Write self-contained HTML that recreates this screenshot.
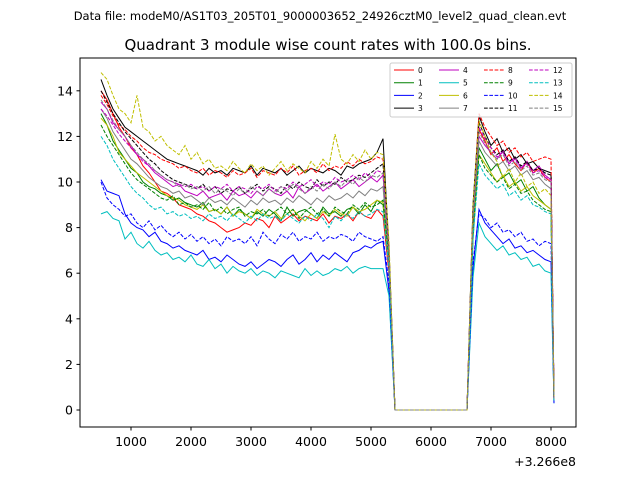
<!DOCTYPE html>
<html><head><meta charset="utf-8"><style>
body{margin:0;background:#fff}
svg{display:block;font-family:"DejaVu Sans","Liberation Sans",sans-serif}
</style></head><body>
<svg id="chart" width="640" height="480">
<rect width="640" height="480" fill="#fff"/>
<text x="320" y="20" font-size="11.5" text-anchor="middle">Data file: modeM0/AS1T03_205T01_9000003652_24926cztM0_level2_quad_clean.evt</text>
<text x="328" y="50" font-size="15" text-anchor="middle">Quadrant 3 module wise count rates with 100.0s bins.</text>
<g id="plot"></g>
<rect x="80" y="58" width="496" height="369" fill="none" stroke="#000" stroke-width="1"/>
<g id="axes"></g>
<text x="576" y="466" font-size="12.5" text-anchor="end">+3.266e8</text>
<g id="legend"></g>
</svg>
<script>
const times=[500,600,700,800,900,1000,1100,1200,1300,1400,1500,1600,1700,1800,1900,2000,2100,2200,2300,2400,2500,2600,2700,2800,2900,3000,3100,3200,3300,3400,3500,3600,3700,3800,3900,4000,4100,4200,4300,4400,4500,4600,4700,4800,4900,5000,5100,5200,5300,5400,5500,5600,5700,5800,5900,6000,6100,6200,6300,6400,6500,6600,6700,6800,6900,7000,7100,7200,7300,7400,7500,7600,7700,7800,7900,8000,8050];
const gap=[0,0,0,0,0,0,0,0,0,0,0,0,0];
const xTicks=[1000,2000,3000,4000,5000,6000,7000,8000];
const yTicks=[0,2,4,6,8,10,12,14];
const colors=["#ff0000","#008000","#0000ff","#000000","#bf00bf","#00bfbf","#bfbf00","#808080"];
const s0=[14.0,13.6,13.0,12.4,12.0,11.5,11.2,10.7,10.4,10.0,9.6,9.5,9.3,9.0,8.9,8.8,8.6,8.5,8.3,8.2,8.0,7.8,7.9,8.0,8.2,8.1,8.4,8.3,8.0,8.5,8.2,8.4,8.6,8.3,8.5,8.4,8.3,8.6,8.2,8.5,8.4,8.6,8.3,8.7,8.5,8.4,8.8,8.5,6.0].concat(gap,[8.0,12.3,11.8,11.2,11.5,10.9,11.2,10.8,10.5,10.9,10.4,10.6,10.2,10.0,0.5]);
const s1=[13.0,12.5,11.8,11.4,11.0,10.6,10.4,10.0,9.8,9.7,9.5,9.4,9.2,9.3,9.1,9.0,8.9,9.1,8.7,8.8,8.6,8.9,8.5,8.8,8.6,8.4,8.7,8.5,8.8,8.6,8.3,8.9,8.5,8.7,8.8,8.6,8.4,8.9,8.6,8.7,8.5,8.8,8.9,8.6,9.0,8.7,9.2,9.0,6.5].concat(gap,[7.5,11.5,11.0,10.5,10.8,10.2,10.4,9.9,10.1,9.6,9.8,9.3,9.0,8.8,0.4]);
const s2=[10.1,9.6,9.5,9.4,8.6,8.2,8.0,7.9,7.6,7.8,7.4,7.3,7.1,7.2,7.0,6.9,6.8,7.0,6.6,6.7,6.5,6.8,6.6,6.4,6.3,6.5,6.2,6.4,6.6,6.5,6.3,6.6,6.8,6.4,6.6,6.9,6.5,6.8,6.6,6.9,6.7,6.5,6.9,7.0,7.2,7.1,7.3,7.4,5.2].concat(gap,[6.2,8.8,8.2,7.9,7.6,7.3,7.5,7.1,7.2,6.9,7.0,6.8,6.6,6.5,0.3]);
const s3=[14.5,13.8,13.2,12.8,12.4,12.2,12.0,11.8,11.6,11.4,11.2,11.0,10.9,10.8,10.7,10.6,10.5,10.3,10.6,10.4,10.5,10.3,10.6,10.5,10.4,10.7,10.3,10.6,10.5,10.4,10.6,10.3,10.5,10.7,10.4,10.6,10.5,10.4,10.6,10.5,10.3,10.7,10.6,10.8,10.9,11.0,11.3,11.9,7.0].concat(gap,[9.0,12.9,12.2,11.6,11.9,11.3,11.5,11.0,11.2,10.8,10.9,10.6,10.5,10.4,0.6]);
const s4=[13.5,13.2,12.6,12.3,12.0,11.6,11.2,11.0,10.7,10.4,10.2,10.0,9.8,9.9,9.6,9.5,9.4,9.6,9.3,9.4,9.5,9.2,9.6,9.4,9.5,9.3,9.6,9.4,9.7,9.5,9.4,9.6,9.3,9.8,9.5,9.7,9.9,9.6,9.8,10.0,9.7,9.9,10.1,9.8,10.0,10.2,10.0,10.3,6.8].concat(gap,[8.5,12.0,11.6,11.3,11.0,11.4,10.8,11.1,10.6,10.9,10.5,10.7,10.3,10.1,0.5]);
const s5=[8.6,8.7,8.4,8.3,7.5,7.8,7.3,7.1,7.4,7.0,6.8,6.9,6.6,6.7,6.5,6.8,6.4,6.3,6.6,6.2,6.4,6.0,6.3,6.1,6.0,6.2,5.9,6.1,6.0,5.8,6.1,6.0,5.9,5.8,6.2,5.9,6.1,5.9,6.0,6.2,6.1,6.3,6.0,6.2,6.3,6.2,6.2,6.2,5.0].concat(gap,[5.8,8.2,7.6,7.3,7.0,7.2,6.8,6.9,6.6,6.7,6.3,6.4,6.1,6.0,0.3]);
const s6=[12.8,12.5,12.0,11.3,11.0,10.7,10.4,10.2,10.0,9.8,9.6,9.4,9.3,9.2,9.0,8.9,8.8,9.0,8.7,8.8,8.6,8.9,8.5,8.7,8.6,8.4,8.8,8.6,8.5,8.7,8.4,8.6,8.8,8.5,8.3,8.6,8.4,8.7,8.5,8.8,8.6,8.5,8.9,8.7,8.8,9.0,9.2,9.1,6.5].concat(gap,[7.8,11.2,10.8,10.4,10.0,10.3,9.8,10.0,9.6,9.8,9.4,9.2,9.0,8.8,0.4]);
const s7=[13.2,12.8,12.2,11.8,11.4,11.0,10.8,10.5,10.2,10.0,9.8,9.7,9.5,9.6,9.3,9.4,9.2,9.0,9.3,9.1,9.2,9.0,9.3,9.1,8.9,9.2,9.0,9.3,9.1,9.2,9.0,9.3,9.1,9.4,9.2,9.0,9.3,9.1,9.4,9.2,9.3,9.5,9.3,9.6,9.4,9.7,9.6,9.8,6.6].concat(gap,[8.2,11.8,11.3,11.0,10.7,10.9,10.5,10.7,10.3,10.5,10.1,10.2,9.9,9.7,0.5]);
const s8=[13.8,13.4,12.9,12.5,12.3,12.0,11.8,11.5,11.3,11.2,11.0,10.9,10.8,10.6,10.7,10.5,10.4,10.6,10.3,10.5,10.4,10.2,10.5,10.3,10.4,10.6,10.2,10.5,10.4,10.3,10.6,10.4,10.7,10.3,10.5,10.6,10.4,10.8,10.5,10.7,10.6,10.9,10.7,11.0,10.8,10.9,11.1,11.0,7.0].concat(gap,[8.8,13.0,12.4,12.0,11.6,11.8,11.3,11.5,11.1,11.3,10.9,11.0,11.1,11.0,0.6]);
const s9=[12.5,12.0,11.6,11.2,10.8,10.4,10.1,9.9,9.7,9.5,9.3,9.2,9.4,9.0,9.1,8.9,9.0,8.8,9.1,8.7,8.9,8.6,8.8,8.9,8.5,8.7,8.6,8.8,8.5,8.7,8.9,8.6,8.8,8.4,8.7,8.9,8.6,8.8,8.5,8.9,8.7,8.6,9.0,8.8,9.1,8.9,9.0,9.2,6.6].concat(gap,[7.8,11.2,10.6,10.3,10.0,10.2,9.7,9.9,9.5,9.6,9.2,9.0,8.8,8.7,0.4]);
const s10=[10.0,9.3,9.0,8.8,8.5,8.6,8.2,8.0,8.3,7.9,8.1,7.8,7.6,7.8,7.5,7.7,7.4,7.6,7.3,7.5,7.2,7.6,7.4,7.5,7.3,7.6,7.2,7.8,7.5,7.3,7.7,7.5,7.8,7.4,7.6,7.5,7.8,7.4,7.6,7.5,7.7,7.6,7.4,7.8,7.6,7.5,7.4,7.6,5.6].concat(gap,[6.5,8.6,8.4,8.0,8.2,7.8,7.9,7.6,7.8,7.4,7.5,7.2,7.4,7.3,0.3]);
const s11=[14.0,13.5,13.0,12.6,12.2,11.9,11.6,11.3,11.0,10.8,10.5,10.3,10.1,10.0,9.9,9.8,9.7,9.9,9.6,9.8,9.5,9.7,9.6,9.8,9.5,9.7,9.9,9.6,9.8,9.7,9.5,9.9,9.7,10.0,9.8,9.7,10.1,9.8,10.0,9.9,10.2,10.0,10.1,10.3,10.2,10.4,10.6,10.8,7.0].concat(gap,[8.8,12.6,12.0,11.5,11.2,11.4,10.9,11.1,10.7,10.9,10.5,10.6,10.4,10.3,0.5]);
const s12=[13.2,12.9,12.5,12.1,11.8,11.5,11.2,10.9,10.7,10.5,10.3,10.1,10.0,9.9,9.8,9.9,9.7,9.8,9.6,9.8,9.7,9.9,9.6,9.8,9.7,9.5,9.8,9.7,9.9,9.6,9.8,9.7,10.0,9.8,9.9,10.1,9.8,10.0,9.9,10.2,10.0,10.1,10.3,10.1,10.4,10.2,10.5,10.4,7.0].concat(gap,[8.6,12.4,11.9,11.5,11.1,11.3,10.8,11.0,10.6,10.8,10.4,10.5,10.2,10.1,0.5]);
const s13=[12.0,11.6,11.0,10.6,10.2,9.8,9.5,9.3,9.0,8.8,8.9,8.6,8.7,8.5,8.6,8.4,8.5,8.3,8.6,8.4,8.5,8.3,8.6,8.4,8.2,8.5,8.3,8.6,8.4,8.5,8.3,8.6,8.4,8.2,8.5,8.3,8.6,8.4,8.0,8.5,8.3,8.6,8.4,8.7,8.5,8.6,8.8,8.7,6.2].concat(gap,[7.5,10.8,10.3,10.0,9.7,9.9,9.4,9.6,9.2,9.4,9.0,8.9,8.7,8.6,0.4]);
const s14=[14.8,14.5,13.8,13.2,13.0,12.6,13.8,12.4,12.2,11.8,12.0,11.6,11.4,11.2,11.6,11.0,11.3,10.8,11.0,10.6,10.7,10.5,10.9,10.6,10.4,10.8,10.5,10.7,10.3,10.6,10.9,10.5,10.8,10.6,10.4,10.9,10.6,11.0,10.7,12.1,11.0,10.8,11.2,10.9,11.4,11.0,11.3,11.2,7.4].concat(gap,[9.0,12.7,12.0,11.3,10.9,10.2,10.6,10.0,10.4,9.8,10.0,9.5,9.7,9.4,0.6]);
const s15=[13.6,13.2,12.7,12.3,12.0,11.6,11.3,11.0,10.8,10.5,10.3,10.1,10.0,9.8,9.9,9.7,9.8,9.6,9.8,9.5,9.7,9.6,9.4,9.7,9.5,9.8,9.6,9.4,9.7,9.5,9.8,9.6,9.9,9.7,9.5,9.8,9.6,9.9,9.7,10.0,9.8,10.1,9.9,10.2,10.0,10.3,10.2,10.4,6.8].concat(gap,[8.5,12.2,11.7,11.3,11.0,11.2,10.7,10.9,10.5,10.7,10.3,10.4,10.1,10.0,0.5]);
const series=[s0,s1,s2,s3,s4,s5,s6,s7,s8,s9,s10,s11,s12,s13,s14,s15];
const labels=["0","1","2","3","4","5","6","7","8","9","10","11","12","13","14","15"];

const NS="http://www.w3.org/2000/svg";
function xs(t){return 71+(t-0)*0.06;}
function ys(v){return 410-v*22.8;}
function mk(tag,attrs,parent){const e=document.createElementNS(NS,tag);for(const k in attrs)e.setAttribute(k,attrs[k]);parent.appendChild(e);return e;}
const plot=document.getElementById('plot'),axes=document.getElementById('axes'),legend=document.getElementById('legend');
series.forEach((s,i)=>{
  const d=s.map((v,j)=>(j?'L':'M')+xs(times[j]).toFixed(1)+','+ys(v).toFixed(1)).join('');
  const p=mk('path',{d:d,fill:'none',stroke:colors[i%8],'stroke-width':1},plot);
  if(i>=8)p.setAttribute('stroke-dasharray','3.7,1.6');
  
  
});
xTicks.forEach(t=>{
  const l=mk('line',{x1:xs(t),x2:xs(t),y1:427,y2:430.5,stroke:'#000'},axes);
  
  
  const tx=mk('text',{x:xs(t),y:446,'font-size':12.5,'text-anchor':'middle'},axes);
  tx.textContent=t;
  
  
});
yTicks.forEach(v=>{
  const l=mk('line',{x1:76.5,x2:80,y1:ys(v),y2:ys(v),stroke:'#000'},axes);
  
  
  const tx=mk('text',{x:73,y:ys(v)+4.5,'font-size':12.5,'text-anchor':'end'},axes);
  tx.textContent=v;
  
  
});
const lb=mk('rect',{x:390,y:63,width:182,height:54,rx:2,fill:'#fff','fill-opacity':0.8,stroke:'#ccc'},legend);


labels.forEach((lab,i)=>{
  const col=Math.floor(i/4),row=i%4;
  const x0=394+col*45,y0=70+row*12.7;
  const l=mk('line',{x1:x0,x2:x0+20,y1:y0,y2:y0,stroke:colors[i%8],'stroke-width':1},legend);
  if(i>=8)l.setAttribute('stroke-dasharray','3.7,1.6');
  
  
  const t=mk('text',{x:x0+24,y:y0+3,'font-size':7.5},legend);
  t.textContent=lab;
  
  
});
</script>
</body></html>
